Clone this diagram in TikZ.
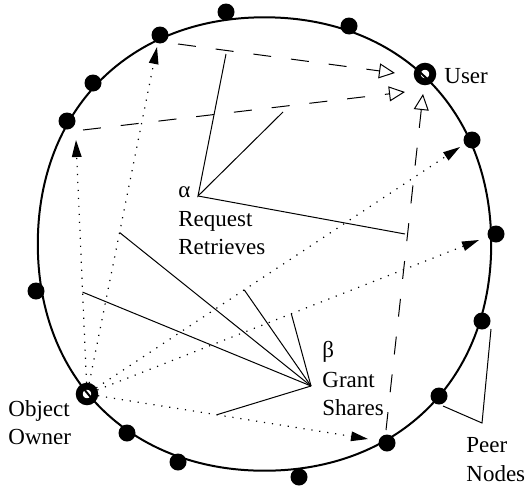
\documentclass[tikz,border=0pt]{standalone}
\usepackage{fontspec}
\setmainfont{Liberation Serif}
\usetikzlibrary{arrows.meta,calc}
\begin{document}
\begin{tikzpicture}[x=0.5pt,y=-0.5pt,
  dot/.style={circle,fill=black,inner sep=0pt,minimum size=8.5pt},
  ring/.style={circle,draw=black,line width=3.4pt,inner sep=0pt,minimum size=7.8pt},
  thinline/.style={line width=0.5pt},
  req/.style={line width=0.5pt,dash pattern=on 9pt off 10pt,-{Triangle[open,length=8pt,width=7.5pt]}},
  grant/.style={line width=0.6pt,dash pattern=on 0.6pt off 3.4pt,-{Triangle[length=8.5pt,width=4.8pt]}},
  lbl/.style={font=\fontsize{11.5}{14}\selectfont,inner sep=0pt,anchor=base west}]
\useasboundingbox (0,0) rectangle (528,487);
% ring of the overlay
\draw[line width=1pt] (491.2,244) .. controls (491.2,109.3) and (399.2,17.3) .. (264.5,17.3)
  .. controls (129.8,17.3) and (37.8,109.3) .. (37.8,244)
  .. controls (37.8,378.7) and (129.8,470.7) .. (264.5,470.7)
  .. controls (399.2,470.7) and (491.2,378.7) .. cycle;
% peer nodes
\node[dot] (d1) at (226,12) {};
\node[dot] (d2) at (160,35) {};
\node[dot] (d3) at (93,83) {};
\node[dot] (d4) at (67,121) {};
\node[dot] (d5) at (36,291) {};
\node[ring] (owner) at (87,394) {};
\node[dot] (d7) at (127,433) {};
\node[dot] (d8) at (178,462) {};
\node[dot] (d9) at (299,477) {};
\node[dot] (d10) at (387,443) {};
\node[dot] (d11) at (439,396) {};
\node[dot] (d12) at (482,321) {};
\node[dot] (d13) at (496,234) {};
\node[dot] (d14) at (472,140) {};
\node[ring] (user) at (425,74) {};
\node[dot] (d16) at (349,26) {};
% labels
\node[lbl] (tuser) at (444,83) {User};
\node[lbl] (tobj) at (8,416) {Object};
\node[lbl] (town) at (8,444) {Owner};
\node[lbl] (talpha) at (178,197) {α};
\node[lbl] (treq) at (178,226) {Request};
\node[lbl] (tret) at (178,254) {Retrieves};
\node[lbl] (tbeta) at (322,357) {β};
\node[lbl] (tgrant) at (322,387) {Grant};
\node[lbl] (tshare) at (322,415) {Shares};
\node[lbl] (tpeer) at (466,452) {Peer};
\node[lbl] (tnodes) at (466,481) {Nodes};
% request (dashed) arrows to the user
\coordinate (r1s) at (178,44);  \coordinate (r1e) at (395,73);
\coordinate (r2s) at (83,130);  \coordinate (r2e) at (405,92);
\coordinate (r3s) at (386,430); \coordinate (r3e) at (423,94);
\draw[req] (r1s) -- (r1e);
\draw[req] (r2s) -- (r2e);
\draw[req] (r3s) -- (r3e);
% grant (dotted) arrows from the owner
\coordinate (g1) at (157,47);
\coordinate (g2) at (76,140);
\coordinate (g3) at (460,147);
\coordinate (g4) at (479,240);
\coordinate (g5) at (368,439);
\draw[grant] (owner) -- (g1);
\draw[grant] (owner) -- (g2);
\draw[grant] (owner) -- (g3);
\draw[grant] (owner) -- (g4);
\draw[grant] (owner) -- (g5);
% alpha pointer lines
\coordinate (A) at (198,196);
\coordinate (a1) at (226,54);
\coordinate (a2) at (283,112);
\coordinate (a3) at (405,234);
\draw[thinline] (a1) -- (A) -- (a2);
\draw[thinline] (A) -- (a3);
% beta pointer lines
\coordinate (B) at (311,386);
\coordinate (b1) at ($(owner)!(122,233)!(g1)$);
\coordinate (b2) at ($(owner)!(85,292)!(g2)$);
\coordinate (b3) at ($(owner)!(245,291)!(g3)$);
\coordinate (b4) at ($(owner)!(293,318)!(g4)$);
\coordinate (b5) at ($(owner)!(217,413)!(g5)$);
\foreach \e in {b1,b2,b3,b4,b5} \draw[thinline] (B) -- (\e);
% peer nodes pointer
\coordinate (P) at (482,423);
\coordinate (p1) at (491,329);
\coordinate (p2) at (443,406);
\draw[thinline] (p1) -- (P) -- (p2);
\end{tikzpicture}
\end{document}
